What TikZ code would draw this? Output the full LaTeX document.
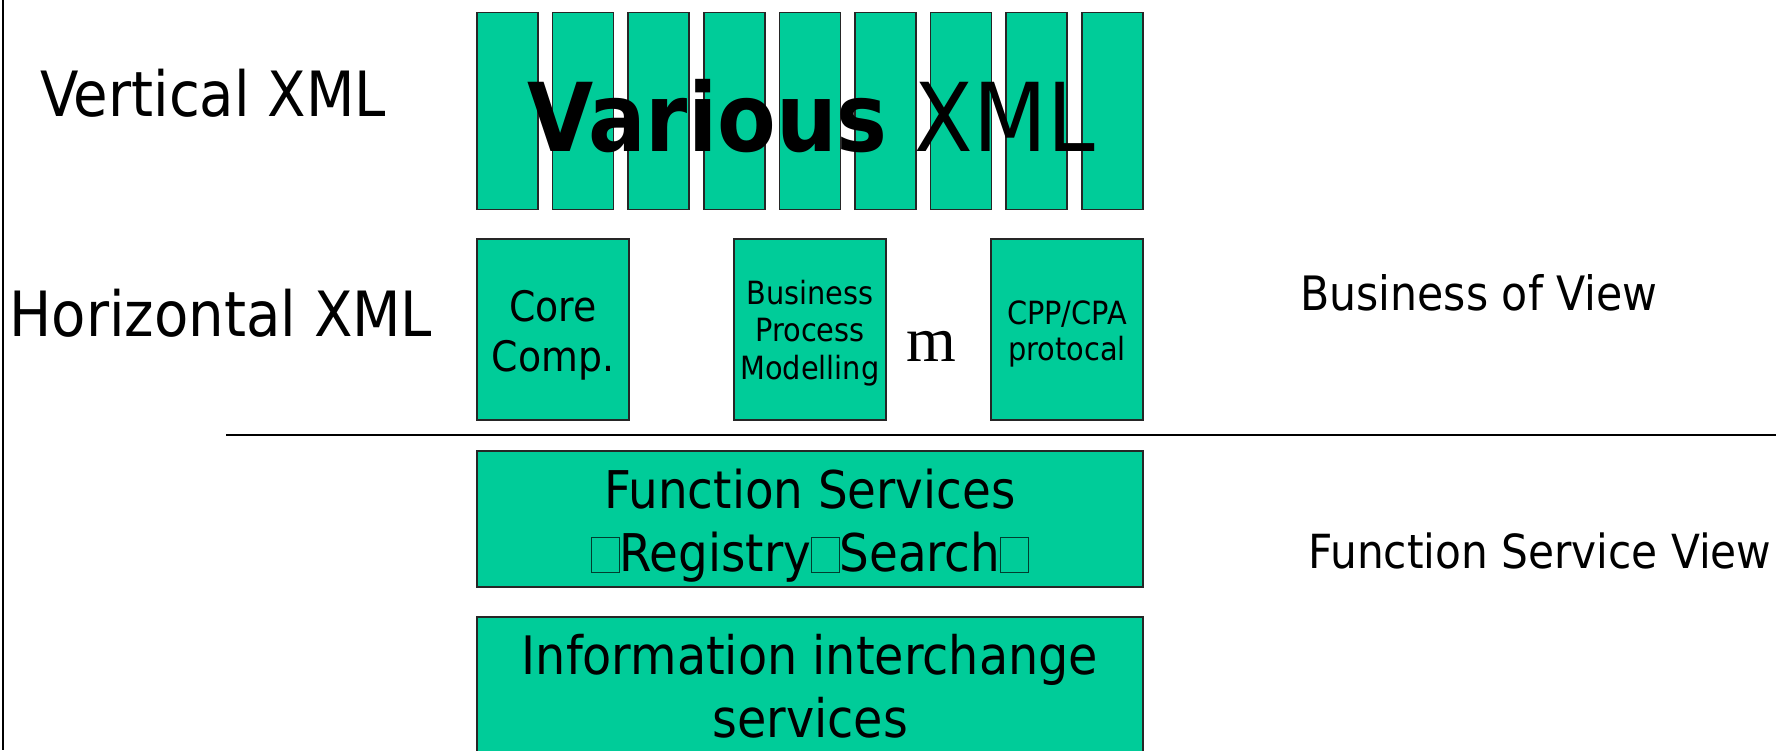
\documentclass[tikz,border=0pt]{standalone}
\usepackage{fontspec}
\setmainfont{DejaVu Sans Condensed}
\newfontfamily\serifm{Liberation Serif}
\definecolor{xmlgreen}{RGB}{0,204,153}
\newcommand{\tofu}{{\setlength{\fboxsep}{0pt}\setlength{\fboxrule}{0.4pt}\color{black!70!xmlgreen}\fbox{\rule{0pt}{0.64em}\hspace{0.52em}}}}
\newcommand{\fsz}[1]{\fontsize{#1}{1.2\dimexpr#1\relax}\selectfont}

\begin{document}
\begin{tikzpicture}[x=0.5pt, y=-0.5pt]
                \tikzstyle{block} = [draw=black!85, line width=0.75pt, fill=xmlgreen, inner sep=0pt]
                \tikzstyle{bar} = [block, minimum width=30.5pt, minimum height=98.5pt]
                \tikzstyle{unit} = [block, minimum width=76pt, minimum height=90.5pt]
                \tikzstyle{layer} = [block, minimum width=333pt]
                \tikzstyle{txt} = [inner sep=0pt, anchor=base, font=\fsz{#1}]
                \useasboundingbox (0, 0) rectangle (1776, 750);
                \draw[line width=1pt] (3, 0) -- (3, 750);
                \draw[line width=1pt] (226, 435) -- (1776, 435);
                % vertical XML bars
                \foreach \i in {0,...,8}
                    \node[bar] (bar\i) at ({507.5 + 75.6*\i}, 111) {};
                \node[txt=47.5pt] (various) at (811, 151.5) {\textbf{Various} XML};
                % horizontal XML units
                \node[unit] (core) at (553, 329.5) {};
                \node[unit] (bpm) at (810, 329.5) {};
                \node[unit] (cpp) at (1067, 329.5) {};
                \node[txt=21pt] (core1) at (553, 321.5) {Core};
                \node[txt=21pt] (core2) at (553, 371.5) {Comp.};
                \node[txt=16pt] (bpm1) at (810, 304) {Business};
                \node[txt=16pt] (bpm2) at (810, 341.5) {Process};
                \node[txt=16pt] (bpm3) at (810, 379) {Modelling};
                \node[txt=16pt] (cpp1) at (1067, 324) {CPP/CPA};
                \node[txt=16pt] (cpp2) at (1067, 360) {protocal};
                \node[txt=32pt, font=\serifm\fsz{32pt}] (m) at (931, 361.5) {m};
                % service layers
                \node[layer, minimum height=68pt] (func) at (810, 519) {};
                \node[layer, minimum height=71pt] (info) at (810, 688) {};
                \node[txt=26pt] (func1) at (810, 508) {Function Services};
                \node[txt=26pt] (func2) at (810, 571.5) {\tofu Registry\tofu Search\tofu};
                \node[txt=26.5pt] (info1) at (810, 674) {Information interchange};
                \node[txt=26.5pt] (info2) at (810, 737.5) {services};
                % row and view labels
                \node[txt=31.2pt] (vert) at (213, 116.5) {Vertical XML};
                \node[txt=31.2pt] (horiz) at (221, 336.5) {Horizontal XML};
                \node[txt=23.7pt] (busview) at (1479, 310) {Business of View};
                \node[txt=23.5pt] (funcview) at (1540, 568) {Function Service View};
            \end{tikzpicture}
\end{document}
